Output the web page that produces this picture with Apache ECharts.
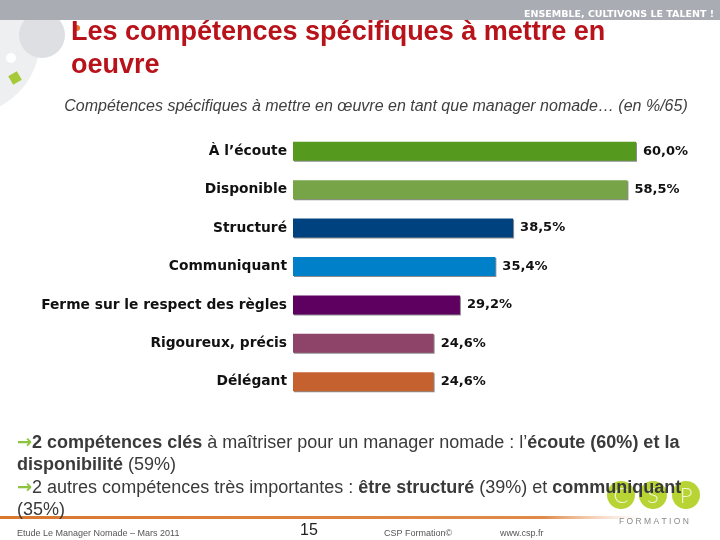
<!DOCTYPE html>
<html><head><meta charset="utf-8">
<script src="https://cdn.jsdelivr.net/npm/echarts@6/dist/echarts.min.js"></script>
<style>html,body{margin:0;padding:0;background:#fff}#c{width:720px;height:540px}</style>
</head><body><div id="c"></div>
<script>
var categories = ['À l\u2019écoute','Disponible','Structuré','Communiquant','Ferme sur le respect des règles','Rigoureux, précis','Délégant'];
var values = [60.0, 58.5, 38.5, 35.4, 29.2, 24.6, 24.6];
var barColors = ['#55991E','#76A447','#00427F','#0080C8','#5E005F','#8E4468','#C4612F'];

var chart = echarts.init(document.getElementById('c'), null, {renderer:'canvas'});
var F = '"Liberation Sans", Arial, sans-serif';
var FD = '"DejaVu Sans", sans-serif';
var txt = '#3a3a3a';
chart.setOption({
  animation:false,
  backgroundColor:'#fff',
  grid:{left:293, right:84, top:132, height:269, containLabel:false},
  xAxis:{type:'value', min:0, max:60, show:false},
  yAxis:{type:'category', inverse:true, data:categories,
    axisLine:{show:false}, axisTick:{show:false},
    axisLabel:{margin:6, color:'#111', fontFamily:FD, fontWeight:'bold', fontSize:13.8}},
  series:[{type:'bar', barWidth:19,
    data:values.map(function(v,i){return {value:v, itemStyle:{color:barColors[i], shadowColor:'rgba(0,0,0,0.45)', shadowOffsetX:1, shadowOffsetY:1, shadowBlur:0}};}),
    label:{show:true, position:'right', distance:7, color:'#111', fontFamily:FD, fontWeight:'bold', fontSize:13,
      formatter:function(p){return p.value.toFixed(1).replace('.',',')+'%';}}
  }],
  graphic:[
    {type:'circle', shape:{cx:-35,cy:40,r:75}, style:{fill:'#EEEFF1'}, z:0},
    {type:'circle', shape:{cx:42,cy:35,r:23}, style:{fill:'#DEDFE2'}, z:0},
    {type:'rect', shape:{x:0,y:0,width:720,height:20}, style:{fill:'#A9ACB3'}, z:1},
    {type:'circle', shape:{cx:11,cy:58,r:5}, style:{fill:'#fff'}, z:2},
    {type:'rect', shape:{x:10,y:73,width:10,height:10}, rotation:Math.PI/6, originX:15, originY:78, style:{fill:'#A6C93A'}, z:2},
    {type:'circle', shape:{cx:77,cy:28,r:3}, style:{fill:'#E8712E'}, z:2},
    {type:'text', right:6, top:10, style:{text:'ENSEMBLE, CULTIVONS LE TALENT !', fill:'#fff', font:'bold 9.5px '+FD}, z:3},
    {type:'text', left:71, top:16, style:{text:'Les compétences spécifiques à mettre en\noeuvre', fill:'#B8121B', font:'bold 27px '+F, lineHeight:33}, z:3},
    {type:'text', x:376, y:99, style:{text:'Compétences spécifiques à mettre en \u0153uvre en tant que manager nomade\u2026 (en %/65)', fill:'#404040', font:'italic 16px '+F, textAlign:'center'}, z:3},
    {type:'text', left:17, top:434, z:3, style:{
      text:'{g|\u2192}{b|2 compétences clés}{n| à maîtriser pour un manager nomade : l\u2019}{b|écoute (60%) et la}\n{b|disponibilité}{n| (59%)}\n{g|\u2192}{n|2 autres compétences très importantes : }{b|être structuré}{n| (39%) et }{b|communiquant}\n{n|(35%)}',
      rich:{
        g:{fill:'#8CC43F', font:'bold 18px '+FD, lineHeight:22.5, verticalAlign:'middle'},
        b:{fill:txt, font:'bold 18px '+F, lineHeight:22.5},
        n:{fill:txt, font:'18px '+F, lineHeight:22.5}
      }}},
    {type:'rect', shape:{x:0,y:516,width:640,height:3}, style:{fill:new echarts.graphic.LinearGradient(0,0,1,0,[{offset:0,color:'#D9772F'},{offset:0.85,color:'#E08A4A'},{offset:1,color:'rgba(240,180,140,0)'}])}, z:2},
    {type:'circle', shape:{cx:621,cy:495,r:14}, style:{fill:'#B7D434'}, z:1},
    {type:'circle', shape:{cx:653,cy:495,r:14}, style:{fill:'#B7D434'}, z:1},
    {type:'circle', shape:{cx:686,cy:495,r:14}, style:{fill:'#B7D434'}, z:1},
    {type:'text', x:621, y:496, style:{text:'C', fill:'#EEF5D0', font:'300 22px Lato, '+F, textAlign:'center', textVerticalAlign:'middle'}, z:2},
    {type:'text', x:653, y:496, style:{text:'S', fill:'#EEF5D0', font:'300 22px Lato, '+F, textAlign:'center', textVerticalAlign:'middle'}, z:2},
    {type:'text', x:686, y:496, style:{text:'P', fill:'#EEF5D0', font:'300 22px Lato, '+F, textAlign:'center', textVerticalAlign:'middle'}, z:2},
    {type:'text', x:654, y:517, style:{text:'F O R M A T I O N', fill:'#888', font:'8.5px '+F, textAlign:'center'}, z:2},
    {type:'text', left:17, top:529, style:{text:'Etude Le Manager Nomade \u2013 Mars 2011', fill:'#555', font:'9px '+F}, z:3},
    {type:'text', left:300, top:523, style:{text:'15', fill:'#222', font:'16px '+F}, z:3},
    {type:'text', left:384, top:529, style:{text:'CSP Formation\u00a9', fill:'#555', font:'9px '+F}, z:3},
    {type:'text', left:500, top:529, style:{text:'www.csp.fr', fill:'#555', font:'9px '+F}, z:3}
  ]
});
</script></body></html>
